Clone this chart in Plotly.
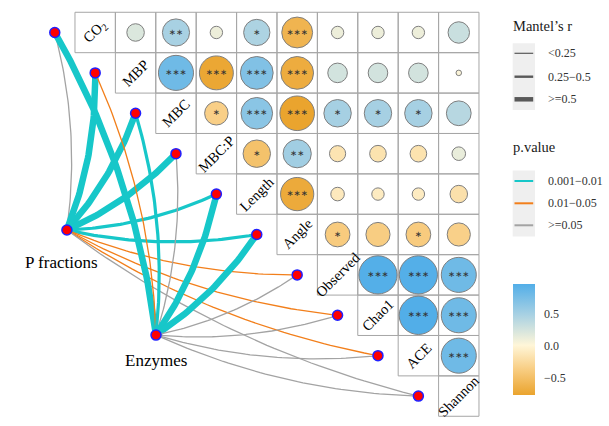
import numpy as np
import plotly.graph_objects as go

# ---------------- data ----------------
variables = ["CO2", "MBP", "MBC", "MBC:P", "Length", "Angle",
             "Observed", "Chao1", "ACE", "Shannon"]
var_labels = ["CO<sub>2</sub>", "MBP", "MBC", "MBC:P", "Length", "Angle",
              "Observed", "Chao1", "ACE", "Shannon"]

# upper triangle correlations: row i lists columns i+1 .. 9
corr_rows = [
    [0.20, 0.48, 0.10, 0.45, -0.62, 0.10, 0.10, 0.10, 0.30],   # CO2
    [0.80, -0.75, 0.70, -0.70, 0.25, 0.25, 0.25, 0.02],        # MBP
    [-0.36, 0.65, -0.78, 0.49, 0.49, 0.49, 0.40],              # MBC
    [-0.49, 0.52, -0.17, -0.18, -0.18, 0.12],                  # MBC:P
    [-0.72, -0.12, -0.10, -0.10, -0.20],                       # Length
    [-0.40, -0.38, -0.40, -0.35],                              # Angle
    [0.95, 0.95, 0.80],                                        # Observed
    [0.96, 0.80],                                              # Chao1
    [0.80],                                                    # ACE
]
stars_rows = [
    ["", "**", "", "*", "***", "", "", "", ""],
    ["***", "***", "***", "***", "", "", "", ""],
    ["*", "***", "***", "*", "*", "*", ""],
    ["*", "**", "", "", "", ""],
    ["***", "", "", "", ""],
    ["*", "", "*", ""],
    ["***", "***", "***"],
    ["***", "***"],
    ["***"],
]

specs = ["P fractions", "Enzymes"]
mantel_r = {
    "P fractions": [0.18, 0.62, 0.60, 0.58, 0.40, 0.38, 0.15, 0.14, 0.13, 0.10],
    "Enzymes":     [0.60, 0.15, 0.35, 0.12, 0.60, 0.62, 0.10, 0.11, 0.12, 0.08],
}
mantel_p = {
    "P fractions": [0.21, 0.004, 0.003, 0.002, 0.006, 0.008, 0.030, 0.020, 0.040, 0.35],
    "Enzymes":     [0.002, 0.030, 0.007, 0.250, 0.003, 0.002, 0.300, 0.280, 0.150, 0.40],
}

r_labels = ["<0.25", "0.25\u22120.5", ">=0.5"]
p_labels = ["0.001\u22120.01", "0.01\u22120.05", ">=0.05"]

# ---------------- styling ----------------
FONT = "Liberation Serif"
W, H = 609, 426
CELL_PX = 40.4
X_RANGE = [-2.356, -2.356 + W / CELL_PX]
Y_RANGE = [-0.804 + H / CELL_PX, -0.804]
spec_pos = {"P fractions": (-0.70, 4.89), "Enzymes": (1.505, 7.49)}
spec_label_shift = {"P fractions": (-5, -32), "Enzymes": (0, -25)}
p_colors = ["#17C7C9", "#F27F1B", "#A3A3A3"]
r_widths = [1.3, 3.2, 6.5]
legend_r_widths = [1.2, 2.4, 4.5]
CURV = 0.1

fig = go.Figure()

# ---------------- Mantel links ----------------
t = np.linspace(0, 1, 50)
for s in specs:
    sx, sy = spec_pos[s]
    rr = np.array(mantel_r[s])
    pp = np.array(mantel_p[s])
    wcat = np.select([rr < 0.25, rr < 0.5], [0, 1], 2)
    pcat = np.select([pp < 0.01, pp < 0.05], [0, 1], 2)
    for i, v in enumerate(variables):
        ex, ey = i - 1.0, float(i)
        dx, dy = ex - sx, ey - sy
        cx = (sx + ex) / 2 - CURV * dy
        cy = (sy + ey) / 2 + CURV * dx
        bx = (1 - t) ** 2 * sx + 2 * (1 - t) * t * cx + t ** 2 * ex
        by = (1 - t) ** 2 * sy + 2 * (1 - t) * t * cy + t ** 2 * ey
        fig.add_trace(go.Scatter(
            x=bx, y=by, mode="lines",
            line=dict(color=p_colors[pcat[i]], width=r_widths[wcat[i]]),
            hoverinfo="skip", showlegend=False))

# ---------------- grid cells ----------------
n = len(variables)
for i in range(n):
    for j in range(i, n):
        fig.add_shape(type="rect", x0=j - 0.5, x1=j + 0.5, y0=i - 0.5, y1=i + 0.5,
                      line=dict(color="#A6A6A6", width=1), layer="below")

# ---------------- correlation circles ----------------
cx_list, cy_list, cr_list, cs_list = [], [], [], []
for i, row in enumerate(corr_rows):
    for k, val in enumerate(row):
        j = i + 1 + k
        cx_list.append(j)
        cy_list.append(i)
        cr_list.append(val)
        cs_list.append(stars_rows[i][k].replace("*", "\u2217"))
cr = np.array(cr_list)
cmin, cmax = cr.min(), cr.max()
mid = (0 - cmin) / (cmax - cmin)
colorscale = [[0, "#EAA42E"], [mid * 0.5, "#F8CC80"], [mid, "#FFF6D8"],
              [mid + (1 - mid) * 0.5, "#A8D1E3"], [1, "#52AEE8"]]
diam = 0.97 * CELL_PX * np.sqrt(np.abs(cr))

fig.add_trace(go.Scatter(
    x=cx_list, y=cy_list, mode="markers",
    marker=dict(size=diam, color=cr, colorscale=colorscale, cmin=cmin, cmax=cmax,
                line=dict(color="#7F7F7F", width=1), opacity=1,
                showscale=True,
                colorbar=dict(
                    x=512.7 / W, xanchor="left", xpad=0,
                    y=1 - 339.7 / H, yanchor="middle", ypad=0,
                    len=111, lenmode="pixels", thickness=22, thicknessmode="pixels",
                    outlinewidth=0,
                    tickvals=[-0.5, 0.0, 0.5], ticktext=["\u22120.5", "0.0", "0.5"],
                    ticks="outside", ticklen=7, tickcolor="rgba(0,0,0,0)",
                    tickfont=dict(family=FONT, size=12, color="#333333"))),
    hoverinfo="skip", showlegend=False))

fig.add_trace(go.Scatter(
    x=cx_list, y=cy_list, mode="text", text=cs_list,
    textfont=dict(family="DejaVu Sans", size=8.5, color="#333333"),
    textposition="middle center", hoverinfo="skip", showlegend=False))

# ---------------- diagonal labels ----------------
for i, lab in enumerate(var_labels):
    fig.add_annotation(x=i, y=i, text=lab, textangle=-45, showarrow=False,
                       font=dict(family=FONT, size=14.5, color="black"))

# ---------------- nodes ----------------
fig.add_trace(go.Scatter(
    x=[i - 1.0 for i in range(n)] + [spec_pos[s][0] for s in specs],
    y=[float(i) for i in range(n)] + [spec_pos[s][1] for s in specs],
    mode="markers",
    marker=dict(size=10, color="#FF0000", line=dict(color="#2020FF", width=1.5)),
    hoverinfo="skip", showlegend=False))

for s in specs:
    fig.add_annotation(x=spec_pos[s][0], y=spec_pos[s][1], text=s, showarrow=False,
                       xshift=spec_label_shift[s][0], yshift=spec_label_shift[s][1],
                       font=dict(family=FONT, size=17, color="black"))

# ---------------- manual legends ----------------
def px(x):
    return x / W


def py(y):
    return 1 - y / H


def legend_block(title, title_y, bg_y0, bg_y1, ys, labels, colors, widths):
    fig.add_annotation(xref="paper", yref="paper", x=px(511), y=py(title_y),
                       xanchor="left", yanchor="middle", text=title, showarrow=False,
                       font=dict(family=FONT, size=14.5, color="#1A1A1A"))
    fig.add_shape(type="rect", xref="paper", yref="paper",
                  x0=px(512.7), x1=px(535), y0=py(bg_y0), y1=py(bg_y1),
                  fillcolor="#EFEFEF", line=dict(width=0), layer="below")
    for yy, lab, col, wd in zip(ys, labels, colors, widths):
        fig.add_shape(type="line", xref="paper", yref="paper",
                      x0=px(514.5), x1=px(533.2), y0=py(yy), y1=py(yy),
                      line=dict(color=col, width=wd))
        fig.add_annotation(xref="paper", yref="paper", x=px(546), y=py(yy),
                           xanchor="left", yanchor="middle", text=lab, showarrow=False,
                           font=dict(family=FONT, size=12, color="#333333"))


legend_block("Mantel\u2019s r", 26, 43.3, 110, [53.3, 76.7, 99.3], r_labels,
             ["#595959"] * 3, legend_r_widths)
legend_block("p.value", 147, 170.5, 236.5, [181, 203.3, 225.3], p_labels,
             p_colors, [2, 2, 2])

fig.update_layout(
    width=W, height=H, autosize=False,
    margin=dict(l=0, r=0, t=0, b=0),
    paper_bgcolor="white", plot_bgcolor="white",
    xaxis=dict(range=X_RANGE, visible=False, showgrid=False, zeroline=False, fixedrange=True),
    yaxis=dict(range=Y_RANGE, visible=False, showgrid=False, zeroline=False, fixedrange=True),
    hovermode=False, showlegend=False,
)

fig.write_html("out.html", config={"displayModeBar": False},
               post_script="document.body.style.margin='0';document.body.style.padding='0';")
